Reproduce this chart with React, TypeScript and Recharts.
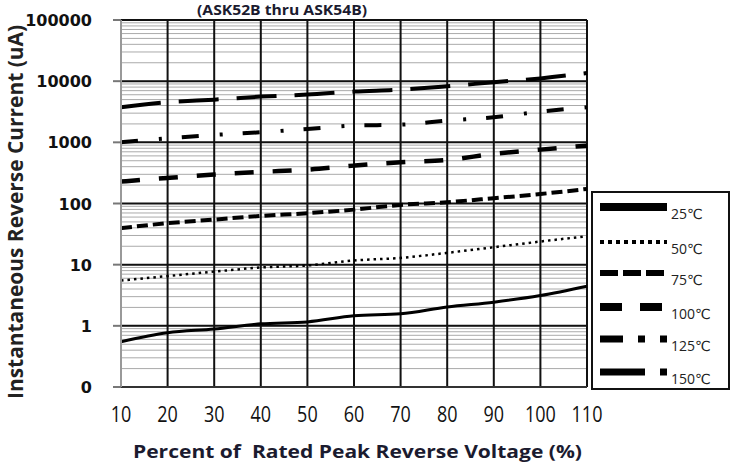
import React from 'react';
import { LineChart, Line, XAxis, YAxis, CartesianGrid, ReferenceLine } from 'recharts';

const X_VALUES = [10, 20, 30, 40, 50, 60, 70, 80, 90, 100, 110];
const T25 = [0.55, 0.77, 0.89, 1.08, 1.16, 1.46, 1.57, 2.04, 2.44, 3.13, 4.45];
const T50 = [5.5, 6.5, 7.7, 9.0, 9.7, 11.7, 12.9, 15.6, 19.3, 23.9, 29.2];
const T75 = [39.5, 47.7, 54.6, 62.7, 69.4, 79.4, 94.9, 105, 122, 143, 173];
const T100 = [228, 262, 297, 328, 358, 416, 473, 516, 646, 760, 883];
const T125 = [1000, 1166, 1320, 1463, 1656, 1877, 1946, 2265, 2570, 3177, 3742];
const T150 = [3740, 4520, 4990, 5590, 6030, 6760, 7270, 8260, 9600, 11100, 13600];

const Y_MAJOR = [0.1, 1, 10, 100, 1000, 10000, 100000];
const Y_LABELS = ['0', '1', '10', '100', '1000', '10000', '100000'];
const MINOR_MULT = [2, 3, 4, 5, 6, 7, 8, 9];
const X_INNER = [20, 30, 40, 50, 60, 70, 80, 90, 100];

const SERIES = [
  { key: 't25', name: '25℃', values: T25, dash: undefined, width: 3, lDash: undefined, lWidth: 8 },
  { key: 't50', name: '50℃', values: T50, dash: '2.5 4', width: 2.5, lDash: '4 4', lWidth: 4 },
  { key: 't75', name: '75℃', values: T75, dash: '11 5', width: 4, lDash: '18 5', lWidth: 6 },
  { key: 't100', name: '100℃', values: T100, dash: '19 19', width: 4.5, lDash: '22 18', lWidth: 8 },
  { key: 't125', name: '125℃', values: T125, dash: '17 21 3 20', width: 4, lDash: '23 15 7 15 7', lWidth: 7 },
  { key: 't150', name: '150℃', values: T150, dash: '40 18', width: 4, lDash: '45 15 7', lWidth: 7 },
];

const data = X_VALUES.map((x, i) => {
  const row: Record<string, number> = { x };
  SERIES.forEach((s) => { row[s.key] = s.values[i]; });
  return row;
});

const MINOR_TICKS: number[] = [];
Y_MAJOR.slice(0, -1).forEach((d) => MINOR_MULT.forEach((m) => MINOR_TICKS.push(+(d * m).toPrecision(3))));
const ALL_TICKS = [...Y_MAJOR, ...MINOR_TICKS].sort((a, b) => a - b);

const YTick = (props: any) => {
  const { x, y, payload } = props;
  const idx = Y_MAJOR.findIndex((v) => Math.abs(v - payload.value) / v < 1e-6);
  if (idx < 0) return null;
  return (
    <g>
      <line x1={x + 21} x2={x + 29} y1={y} y2={y} stroke="#777" strokeWidth={2} />
      <text x={x} y={y} dy={6} textAnchor="end" fontFamily="DejaVu Sans" fontWeight="bold" fontSize={16} fill="#111">
        {Y_LABELS[idx]}
      </text>
    </g>
  );
};

const XTick = (props: any) => {
  const { x, y, payload } = props;
  return (
    <text transform={`translate(${x},${y + 35}) scale(1,1.17)`} textAnchor="middle" fontFamily="Open Sans" fontSize={18} fill="#111">
      {payload.value}
    </text>
  );
};

const LEGEND_ROWS = [207, 242, 273, 307, 339, 372];

export default function App() {
  return (
    <div style={{ position: 'absolute', left: 0, top: 0, width: 735, height: 470, background: '#fff' }}>
      <LineChart width={735} height={470} data={data} margin={{ top: 20, right: 148, bottom: 0, left: 0 }}>
        <CartesianGrid horizontal vertical={false} stroke="#aaa" strokeWidth={1} />
        <XAxis
          dataKey="x"
          type="number"
          domain={[10, 110]}
          ticks={X_VALUES}
          interval={0}
          height={83}
          tickLine={false}
          tickSize={0}
          tickMargin={0}
          axisLine={{ stroke: '#333', strokeWidth: 2 }}
          tick={<XTick />}
        />
        <YAxis
          type="number"
          scale="log"
          domain={[0.1, 100000]}
          allowDataOverflow
          ticks={ALL_TICKS}
          interval={0}
          width={121}
          tickLine={false}
          tickSize={8}
          tickMargin={21}
          axisLine={{ stroke: '#999', strokeWidth: 2 }}
          tick={<YTick />}
        />
        {Y_MAJOR.slice(1).map((v) => (
          <ReferenceLine key={'y' + v} y={v} stroke="#111" strokeWidth={2} ifOverflow="visible" />
        ))}
        {X_INNER.map((v) => (
          <ReferenceLine key={'x' + v} x={v} stroke="#111" strokeWidth={2} />
        ))}
        <ReferenceLine x={110} stroke="#111" strokeWidth={2} ifOverflow="visible" />
        {SERIES.map((s) => (
          <Line
            key={s.key}
            dataKey={s.key}
            name={s.name}
            type="monotone"
            stroke="#000"
            strokeWidth={s.width}
            strokeDasharray={s.dash}
            dot={false}
            activeDot={false}
            isAnimationActive={false}
          />
        ))}
      </LineChart>
      <svg width={735} height={470} style={{ position: 'absolute', left: 0, top: 0, pointerEvents: 'none' }}>
        <text x={197} y={15} fontFamily="Open Sans" fontWeight="bold" fontSize={14} fill="#1b1b2f" textLength={170} lengthAdjust="spacingAndGlyphs">
          (ASK52B thru ASK54B)
        </text>
        <text
          transform="translate(23,212) rotate(-90)"
          textAnchor="middle"
          fontFamily="Open Sans"
          fontWeight="bold"
          fontSize={21}
          fill="#222"
          textLength={374}
          lengthAdjust="spacingAndGlyphs"
        >
          Instantaneous Reverse Current (uA)
        </text>
        <text
          x={133}
          y={458}
          fontFamily="Open Sans"
          fontWeight="bold"
          fontSize={18}
          fill="#1b1b2f"
          textLength={449}
          lengthAdjust="spacingAndGlyphs"
          style={{ whiteSpace: 'pre' }}
        >
          Percent of  Rated Peak Reverse Voltage (%)
        </text>
        <g>
          <rect x={592} y={192} width={137} height={197} fill="#fff" stroke="#111" strokeWidth={2} />
          {SERIES.map((s, i) => {
            const cy = LEGEND_ROWS[i];
            return (
              <g key={s.key}>
                <line x1={600} x2={667} y1={cy} y2={cy} stroke="#000" strokeWidth={s.lWidth} strokeDasharray={s.lDash} />
                <text x={671} y={cy + 12} fontFamily="Open Sans, DejaVu Sans" fontSize={14} fill="#222">{s.name}</text>
              </g>
            );
          })}
        </g>
      </svg>
    </div>
  );
}
